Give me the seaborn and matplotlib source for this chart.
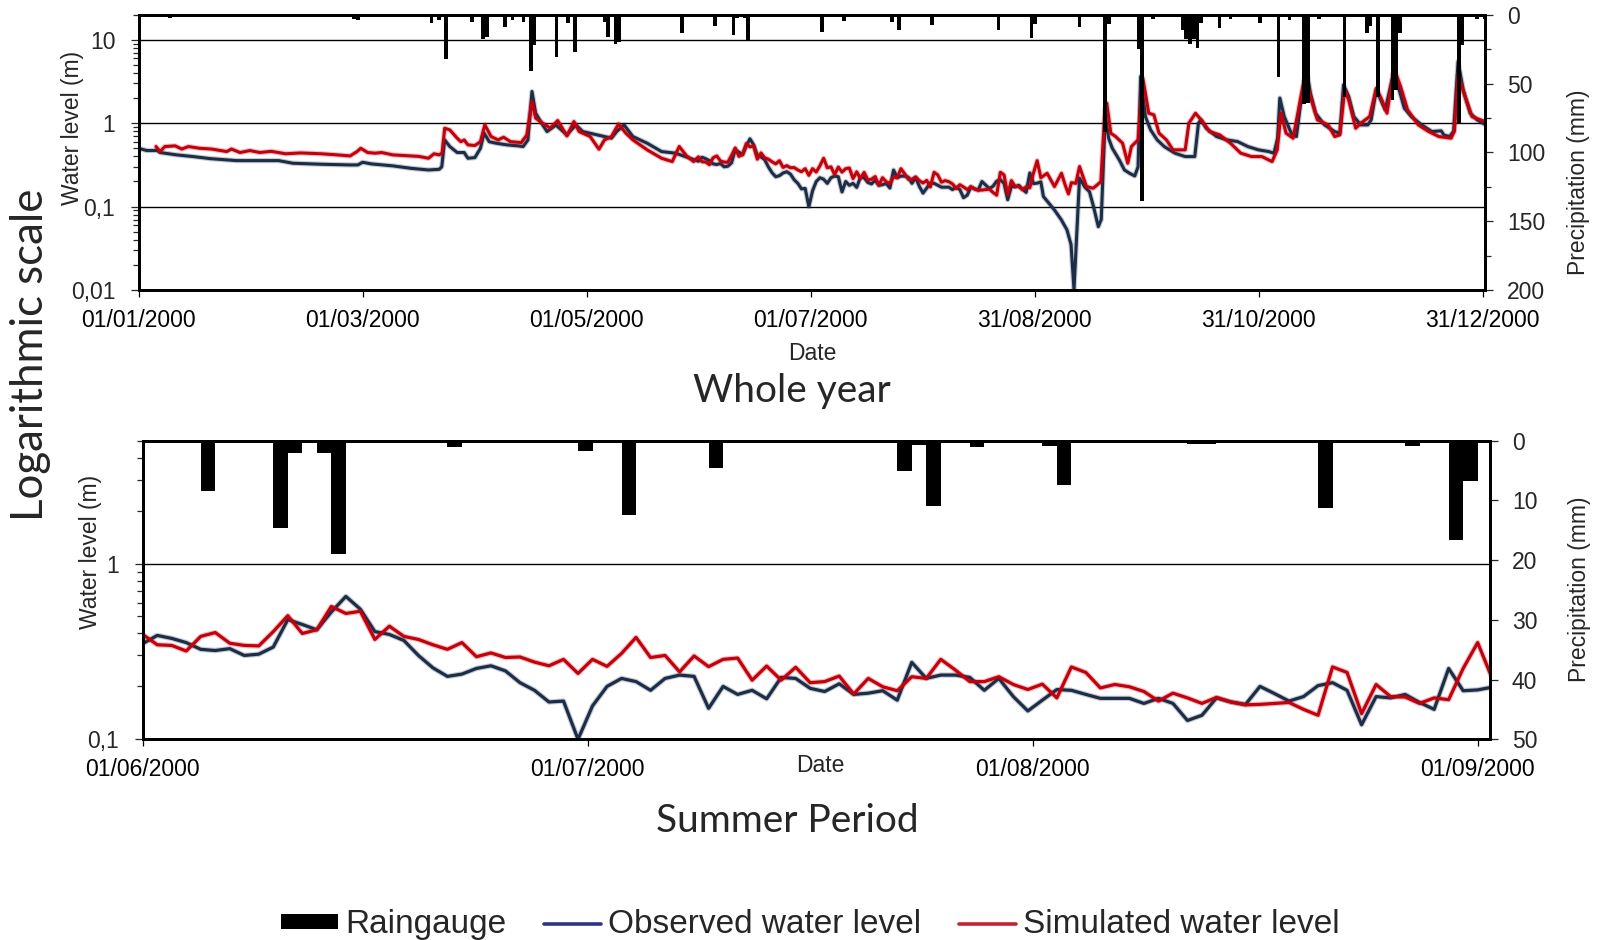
import numpy as np
import pandas as pd
import matplotlib
matplotlib.use("Agg")
import matplotlib.pyplot as plt
import matplotlib.dates as mdates
import matplotlib.patheffects as pe
from matplotlib.ticker import FixedLocator, LogLocator, MultipleLocator, NullFormatter
from matplotlib.lines import Line2D
from matplotlib.patches import Patch
import seaborn as sns

# ------------------------------------------------------------------ data
YEAR_START = "2000-01-01"
SUMMER_START = "2000-06-01"

# Daily water level (m) from 1 June to 2 September 2000
summer_observed = [
    0.35, 0.39, 0.375, 0.355, 0.325, 0.32, 0.328, 0.30, 0.305, 0.335,
    0.48, 0.45, 0.42, 0.53, 0.65, 0.55, 0.41, 0.395, 0.365, 0.30,
    0.255, 0.228, 0.235, 0.253, 0.262, 0.245, 0.21, 0.19, 0.163, 0.165,
    0.10, 0.155, 0.20, 0.222, 0.213, 0.19, 0.222, 0.232, 0.228, 0.15,
    0.20, 0.18, 0.19, 0.17, 0.225, 0.222, 0.195, 0.187, 0.207, 0.18,
    0.183, 0.189, 0.167, 0.274, 0.222, 0.232, 0.232, 0.225, 0.19, 0.222,
    0.175, 0.145, 0.167, 0.192, 0.19, 0.18, 0.171, 0.171, 0.171, 0.16,
    0.171, 0.16, 0.128, 0.137, 0.172, 0.163, 0.158, 0.20, 0.182, 0.165,
    0.175, 0.202, 0.21, 0.19, 0.121, 0.175, 0.172, 0.18, 0.162, 0.148,
    0.253, 0.189, 0.191, 0.198,
]
summer_simulated = [
    0.395, 0.345, 0.342, 0.318, 0.385, 0.405, 0.352, 0.342, 0.34, 0.41,
    0.505, 0.40, 0.42, 0.57, 0.52, 0.535, 0.37, 0.44, 0.385, 0.37,
    0.345, 0.325, 0.355, 0.295, 0.31, 0.292, 0.294, 0.275, 0.262, 0.285,
    0.237, 0.285, 0.26, 0.308, 0.38, 0.292, 0.30, 0.242, 0.298, 0.259,
    0.285, 0.29, 0.217, 0.261, 0.217, 0.257, 0.21, 0.213, 0.229, 0.181,
    0.222, 0.199, 0.189, 0.227, 0.222, 0.285, 0.248, 0.213, 0.213, 0.227,
    0.205, 0.192, 0.206, 0.172, 0.258, 0.24, 0.196, 0.205, 0.199, 0.187,
    0.165, 0.183, 0.172, 0.16, 0.173, 0.163, 0.157, 0.158, 0.16, 0.162,
    0.148, 0.137, 0.258, 0.24, 0.14, 0.205, 0.175, 0.174, 0.16, 0.172,
    0.168, 0.253, 0.355, 0.222,
]

# Water level (m) outside the summer window; day = days after 1 January 2000
spring_obs_day = [
    0, 2.2, 5, 5.8, 10.3, 14.8, 19.4, 23.9, 26.6, 32.9, 38, 41.9, 49.6, 57.4,
    59.5, 60.8, 63.2, 69, 73.9, 78.7, 81.6, 82.3, 83.1, 84.5, 86.5, 88.4, 89.4,
    91.3, 92.8, 93.8, 95.2, 97.1, 100, 103, 104.4, 105.7, 106.8, 107.8, 109.7,
    110.9, 113.3, 116.3, 118.7, 120.6, 124.5, 128.4, 129.8, 131.8, 134.2, 138.1,
    142, 145.8, 149.7,
]
spring_obs = [
    0.50, 0.47, 0.47, 0.445, 0.417, 0.398, 0.376, 0.363, 0.356, 0.356, 0.356,
    0.331, 0.322, 0.316, 0.316, 0.34, 0.325, 0.308, 0.288, 0.275, 0.28, 0.30,
    0.63, 0.525, 0.445, 0.445, 0.38, 0.387, 0.50, 0.76, 0.60, 0.575, 0.55,
    0.535, 0.525, 0.63, 2.40, 1.32, 0.955, 0.794, 0.95, 0.724, 0.955, 0.794,
    0.724, 0.661, 0.794, 0.955, 0.692, 0.575, 0.457, 0.437, 0.38,
]
spring_sim_day = [
    4.7, 5.8, 7.1, 9.9, 11.7, 13.5, 16.6, 19.8, 23.9, 25.2, 27.5, 30.2, 32.9,
    36, 39.9, 44, 49.6, 53, 57.4, 59.3, 60.3, 62.2, 64.2, 66, 69, 73.9, 76,
    78.7, 80.2, 81.6, 82.4, 83.1, 84.5, 86.5, 87.5, 88.4, 89.4, 91.3, 92.8, 94,
    95.7, 97.6, 99.1, 101, 103.9, 105.4, 106.8, 107.8, 109.7, 110.9, 111.7,
    113.8, 116.3, 118.2, 119.6, 122.6, 125, 126.5, 128.4, 130.3, 132.3, 134.2,
    138.1, 142, 144.9, 146.8, 148.8, 150.7,
]
spring_sim = [
    0.525, 0.457, 0.525, 0.535, 0.49, 0.525, 0.50, 0.49, 0.457, 0.49, 0.445,
    0.47, 0.445, 0.46, 0.43, 0.44, 0.43, 0.42, 0.405, 0.457, 0.50, 0.445,
    0.437, 0.445, 0.417, 0.405, 0.40, 0.38, 0.43, 0.417, 0.44, 0.87, 0.83,
    0.66, 0.60, 0.63, 0.55, 0.54, 0.60, 0.955, 0.692, 0.631, 0.679, 0.60,
    0.586, 0.724, 1.82, 1.15, 1.0, 0.93, 0.87, 1.076, 0.705, 1.047, 0.794,
    0.692, 0.488, 0.631, 0.692, 0.98, 0.76, 0.631, 0.479, 0.38, 0.347, 0.525,
    0.405, 0.347,
]
autumn_obs_day = [
    245.7, 248.7, 250.6, 252.1, 253.2, 254, 255.5, 257, 258.2, 259.3, 260.6,
    261.4, 262.5, 263.4, 264.4, 266.3, 267.7, 269.1, 270.5, 271.4, 272.1,
    273.4, 274.8, 276.6, 278.5, 281.4, 284.2, 286.8, 287.8, 288.5, 289.9,
    292.7, 295.5, 298.4, 301.2, 304.1, 306.9, 308.3, 309.3, 309.9, 311.1, 313,
    314.4, 315.8, 317.1, 318.2, 319.6, 322, 324.8, 326.2, 327.2, 328.6, 330,
    331.9, 333.8, 334.7, 336.1, 338.5, 340.9, 343.7, 345.6, 348.4, 351.2,
    353.7, 354.5, 356, 357.1, 358.3, 359.7, 361.6, 363.5, 365.7,
]
autumn_obs = [
    0.132, 0.091, 0.069, 0.0525, 0.035, 0.0101, 0.219, 0.17, 0.151, 0.10,
    0.0575, 0.07, 1.26, 0.661, 0.501, 0.363, 0.275, 0.251, 0.233, 0.30, 3.63,
    1.20, 0.832, 0.631, 0.525, 0.437, 0.398, 0.398, 1.0, 1.096, 0.871, 0.692,
    0.631, 0.603, 0.525, 0.479, 0.457, 0.437, 0.661, 2.0, 1.20, 0.759, 0.692,
    2.09, 4.57, 2.29, 1.318, 0.955, 0.794, 0.759, 2.88, 2.09, 1.20, 0.955,
    0.955, 1.096, 2.51, 1.445, 4.17, 1.514, 1.20, 0.955, 0.794, 0.81, 0.72,
    0.692, 0.80, 5.50, 2.51, 1.318, 1.096, 0.96,
]
autumn_sim_day = [
    246.7, 248.7, 250.6, 251.6, 252.5, 253.3, 254.5, 255.5, 257.4, 259.2,
    260.3, 261.3, 262.4, 262.9, 264, 265.3, 267.2, 268.6, 269.6, 270.5, 271.4,
    272.7, 274.3, 275.7, 277.1, 279.1, 280.9, 284.2, 285.2, 287, 288.9, 290.8,
    293.6, 296.5, 299.3, 302.2, 305, 307.8, 309.2, 310.2, 311.6, 313.5, 315.3,
    316.8, 318.2, 320.1, 323, 324.8, 326.2, 327.5, 328.6, 330.5, 331.9, 334.3,
    336.1, 337.6, 339, 340.9, 342.7, 344.6, 347.5, 350.3, 353.1, 356.4, 357.3,
    358.3, 360.2, 362.1, 364.4, 365.7,
]
autumn_sim = [
    0.251, 0.174, 0.251, 0.182, 0.142, 0.194, 0.19, 0.302, 0.174, 0.166,
    0.182, 0.20, 1.445, 1.74, 0.759, 0.692, 0.575, 0.331, 0.525, 0.575, 0.631,
    3.47, 1.318, 1.259, 0.759, 0.631, 0.479, 0.479, 1.0, 1.318, 1.047, 0.794,
    0.724, 0.575, 0.437, 0.398, 0.398, 0.347, 0.479, 1.318, 0.759, 0.661,
    1.74, 3.8, 2.09, 1.096, 0.955, 0.692, 0.724, 2.51, 1.905, 0.871, 1.0,
    1.202, 2.63, 1.905, 1.318, 4.57, 2.75, 1.445, 0.955, 0.794, 0.692, 0.661,
    0.80, 3.8, 2.09, 1.20, 1.096, 1.047,
]

# Daily rainfall (mm) at the raingauge; day = days after 1 January 2000
rain_day = [
    8, 26, 32, 58, 59, 60, 79, 81, 83, 85, 90, 93, 94, 99, 101, 104, 106, 107,
    113, 116, 118, 126, 127, 129, 130, 147, 156, 161, 162, 164, 165, 173, 182,
    185, 191, 204, 205, 206, 207, 209, 213, 214, 215, 224, 225, 233, 234, 239,
    242, 243, 255, 262, 263, 271, 272, 275, 283, 284, 285, 286, 287, 288, 293,
    296, 304, 305, 309, 312, 316, 317, 320, 323, 327, 333, 334, 336, 340, 341,
    342, 358, 359, 363, 365,
]
rain_mm = [
    2.5, 1, 1, 3, 4, 2, 6, 4, 32, 2, 5, 18, 16, 9, 4, 5, 41, 22, 30.5, 6, 27,
    5, 16, 21, 20, 13, 8.4, 14.6, 2.1, 2.1, 18.9, 1.1, 1.7, 12.4, 4.6, 5.1,
    0.7, 10.9, 0.3, 1.1, 0.3, 0.9, 7.5, 0.5, 0.5, 11.3, 0.3, 0.95, 16.6, 6.7,
    9, 85, 7, 25, 135, 3, 11, 18, 21, 18, 24, 6, 10, 3, 6, 2, 45, 4, 65, 64,
    3, 2, 60, 13, 8, 60, 62, 55, 13, 79, 22, 3, 3,
]

year_ticklabels = ["01/01/2000", "01/03/2000", "01/05/2000", "01/07/2000",
                   "31/08/2000", "31/10/2000", "31/12/2000"]
summer_ticklabels = ["01/06/2000", "01/07/2000", "01/08/2000", "01/09/2000"]
year_level_ticks = [0.01, 0.1, 1, 10]
year_level_labels = ["0,01", "0,1", "1", "10"]
summer_level_ticks = [0.1, 1]
summer_level_labels = ["0,1", "1"]
year_rain_ticks = [0, 50, 100, 150, 200]
summer_rain_ticks = [0, 10, 20, 30, 40, 50]

legend_labels = ["Raingauge", "Observed water level", "Simulated water level"]

# ------------------------------------------------------------------ build series
t0 = pd.Timestamp(YEAR_START)
s0 = pd.Timestamp(SUMMER_START)


def to_dates(days):
    return t0 + pd.to_timedelta(np.asarray(days, dtype=float), unit="D")


summer_offset = (s0 - t0).days
summer_days = summer_offset + np.arange(len(summer_observed))

obs_days = np.concatenate([spring_obs_day, summer_days, autumn_obs_day])
obs_vals = np.concatenate([spring_obs, summer_observed, autumn_obs])
sim_days = np.concatenate([spring_sim_day, summer_days, autumn_sim_day])
sim_vals = np.concatenate([spring_sim, summer_simulated, autumn_sim])

year_obs = pd.DataFrame({"date": to_dates(obs_days), "level": obs_vals})
year_sim = pd.DataFrame({"date": to_dates(sim_days), "level": sim_vals})
summer_dates = pd.date_range(SUMMER_START, periods=len(summer_observed), freq="D")
summer_obs_df = pd.DataFrame({"date": summer_dates, "level": summer_observed})
summer_sim_df = pd.DataFrame({"date": summer_dates, "level": summer_simulated})

rain = pd.DataFrame({"day": rain_day, "mm": rain_mm})
rain["x"] = mdates.date2num(to_dates(rain["day"]))

# ------------------------------------------------------------------ style
sns.set_style("ticks")
plt.rcParams["font.family"] = ["Liberation Sans", "DejaVu Sans"]
plt.rcParams["axes.unicode_minus"] = False

OBS_COLOR = "#1c2d48"
SIM_COLOR = "#c3000b"
OBS_KEY = "#2f3382"
SIM_KEY = "#c42231"
TICK_SIZE = 16.5
LABEL_SIZE = 16.5
TITLE_FONT = ["Lato", "DejaVu Sans"]

W, H = 1605, 940
fig = plt.figure(figsize=(W / 100, H / 100), dpi=100)


def box(left, top, right, bottom):
    return [left / W, 1 - bottom / H, (right - left) / W, (bottom - top) / H]


ax_year = fig.add_axes(box(138.7, 14.7, 1485.3, 290.0))
ax_summer = fig.add_axes(box(142.7, 440.7, 1490.0, 739.3))


def level_line(ax, df, color, lw):
    sns.lineplot(data=df, x="date", y="level", ax=ax, color=color,
                 linewidth=lw, estimator=None, sort=False, legend=False)
    line = ax.lines[-1]
    line.set_solid_joinstyle("round")
    line.set_path_effects([pe.Stroke(linewidth=lw + 1.6, foreground=color, alpha=0.25),
                           pe.Normal()])


def style_panel(ax, ax_rain, x_start, x_span, n_ticks, tick_step, tick_labels,
                ylim, level_ticks, level_labels, rain_top, rain_ticks, rain_minor,
                xpad):
    x0 = mdates.date2num(x_start)
    ax.set_xlim(x0, x0 + x_span)
    ax.set_xticks([x0 + k * tick_step for k in range(n_ticks)])
    ax.set_xticklabels(tick_labels)
    ax.set_xlabel("")
    ax.set_ylabel("")

    ax.set_yscale("log")
    ax.set_ylim(*ylim)
    ax.yaxis.set_major_locator(FixedLocator(level_ticks))
    ax.set_yticklabels(level_labels)
    ax.yaxis.set_minor_locator(LogLocator(base=10, subs=np.arange(2, 10)))
    ax.yaxis.set_minor_formatter(NullFormatter())
    ax.grid(False)
    ax.yaxis.grid(True, which="major", color="black", linewidth=1.0)

    ax_rain.set_ylim(rain_top, 0)
    ax_rain.yaxis.set_major_locator(FixedLocator(rain_ticks))
    ax_rain.set_yticklabels([str(t) for t in rain_ticks])
    if rain_minor:
        ax_rain.yaxis.set_minor_locator(MultipleLocator(rain_minor))
    ax_rain.grid(False)

    ax.tick_params(axis="x", which="major", direction="out", length=5.2, width=0.9,
                   pad=xpad, labelsize=TICK_SIZE, top=False, colors="black")
    ax.tick_params(axis="x", which="minor", bottom=False, top=False)
    ax.tick_params(axis="y", which="major", direction="out", length=5.8, width=0.9,
                   pad=11, labelsize=TICK_SIZE, right=False)
    ax.tick_params(axis="y", which="minor", direction="out", length=4.3, width=0.9,
                   right=False)
    ax_rain.tick_params(axis="y", which="major", direction="out", length=5.8,
                        width=0.9, pad=10, labelsize=TICK_SIZE)
    ax_rain.tick_params(axis="y", which="minor", direction="out", length=4.3,
                        width=0.9)
    for a in (ax, ax_rain):
        for s in a.spines.values():
            s.set_visible(True)
            s.set_color("black")
            s.set_linewidth(2.1)


# ---- whole year
level_line(ax_year, year_obs, OBS_COLOR, 2.2)
level_line(ax_year, year_sim, SIM_COLOR, 2.2)
rain_year = ax_year.twinx()
rain_year.bar(rain["x"], rain["mm"], width=1.0, align="edge", color="black",
              linewidth=0)
style_panel(ax_year, rain_year, t0, 365.7, 7, 365 / 6, year_ticklabels,
            (0.01, 20), year_level_ticks, year_level_labels, 200,
            year_rain_ticks, 25, 8.8)

# ---- summer period
level_line(ax_summer, summer_obs_df, OBS_COLOR, 2.3)
level_line(ax_summer, summer_sim_df, SIM_COLOR, 2.3)
rain_summer = ax_summer.twinx()
in_summer = (rain["day"] >= summer_offset) & (rain["day"] < summer_offset + 94)
rain_summer.bar(rain.loc[in_summer, "x"], rain.loc[in_summer, "mm"], width=1.0,
                align="edge", color="black", linewidth=0)
style_panel(ax_summer, rain_summer, s0, 92.85, 4, 92 / 3, summer_ticklabels,
            (0.1, 5), summer_level_ticks, summer_level_labels, 50,
            summer_rain_ticks, None, 8)

# ---- axis titles
for ax, xl, yl in ((ax_year, -0.0445, 0.590), (ax_summer, -0.0337, 0.628)):
    ax.text(xl, yl, "Water level (m)", transform=ax.transAxes, rotation=90,
            rotation_mode="anchor", ha="center", va="baseline", fontsize=LABEL_SIZE)
for ax, xr, yr in ((ax_year, 1.0744, 0.393), (ax_summer, 1.0709, 0.503)):
    ax.text(xr, yr, "Precipitation (mm)", transform=ax.transAxes, rotation=90,
            rotation_mode="anchor", ha="center", va="baseline", fontsize=LABEL_SIZE)

fig.text(812 / W, 1 - 360 / H, "Date", ha="center", va="baseline", fontsize=LABEL_SIZE)
fig.text(820 / W, 1 - 771.7 / H, "Date", ha="center", va="baseline", fontsize=LABEL_SIZE)

fig.text(792 / W, 1 - 402 / H, "Whole year", ha="center", va="baseline",
         fontsize=28, family=TITLE_FONT)
fig.text(787 / W, 1 - 832 / H, "Summer Period", ha="center", va="baseline",
         fontsize=28, family=TITLE_FONT)
fig.text(43.3 / W, 1 - 355 / H, "Logarithmic scale", rotation=90,
         rotation_mode="anchor", ha="center", va="baseline", fontsize=31.5,
         family=TITLE_FONT)

# ---- legend
handles = [
    Patch(facecolor="black", edgecolor="black", linewidth=0),
    Line2D([], [], color=OBS_KEY, linewidth=2.6),
    Line2D([], [], color=SIM_KEY, linewidth=2.6),
]
fig.legend(handles, legend_labels, loc="center", bbox_to_anchor=(810.5 / W, 0.016),
           ncol=3, frameon=False, fontsize=24, handlelength=1.7,
           handleheight=0.35, handletextpad=0.22, columnspacing=1.14,
           borderpad=0, borderaxespad=0)

fig.savefig("out.png", dpi=100)
